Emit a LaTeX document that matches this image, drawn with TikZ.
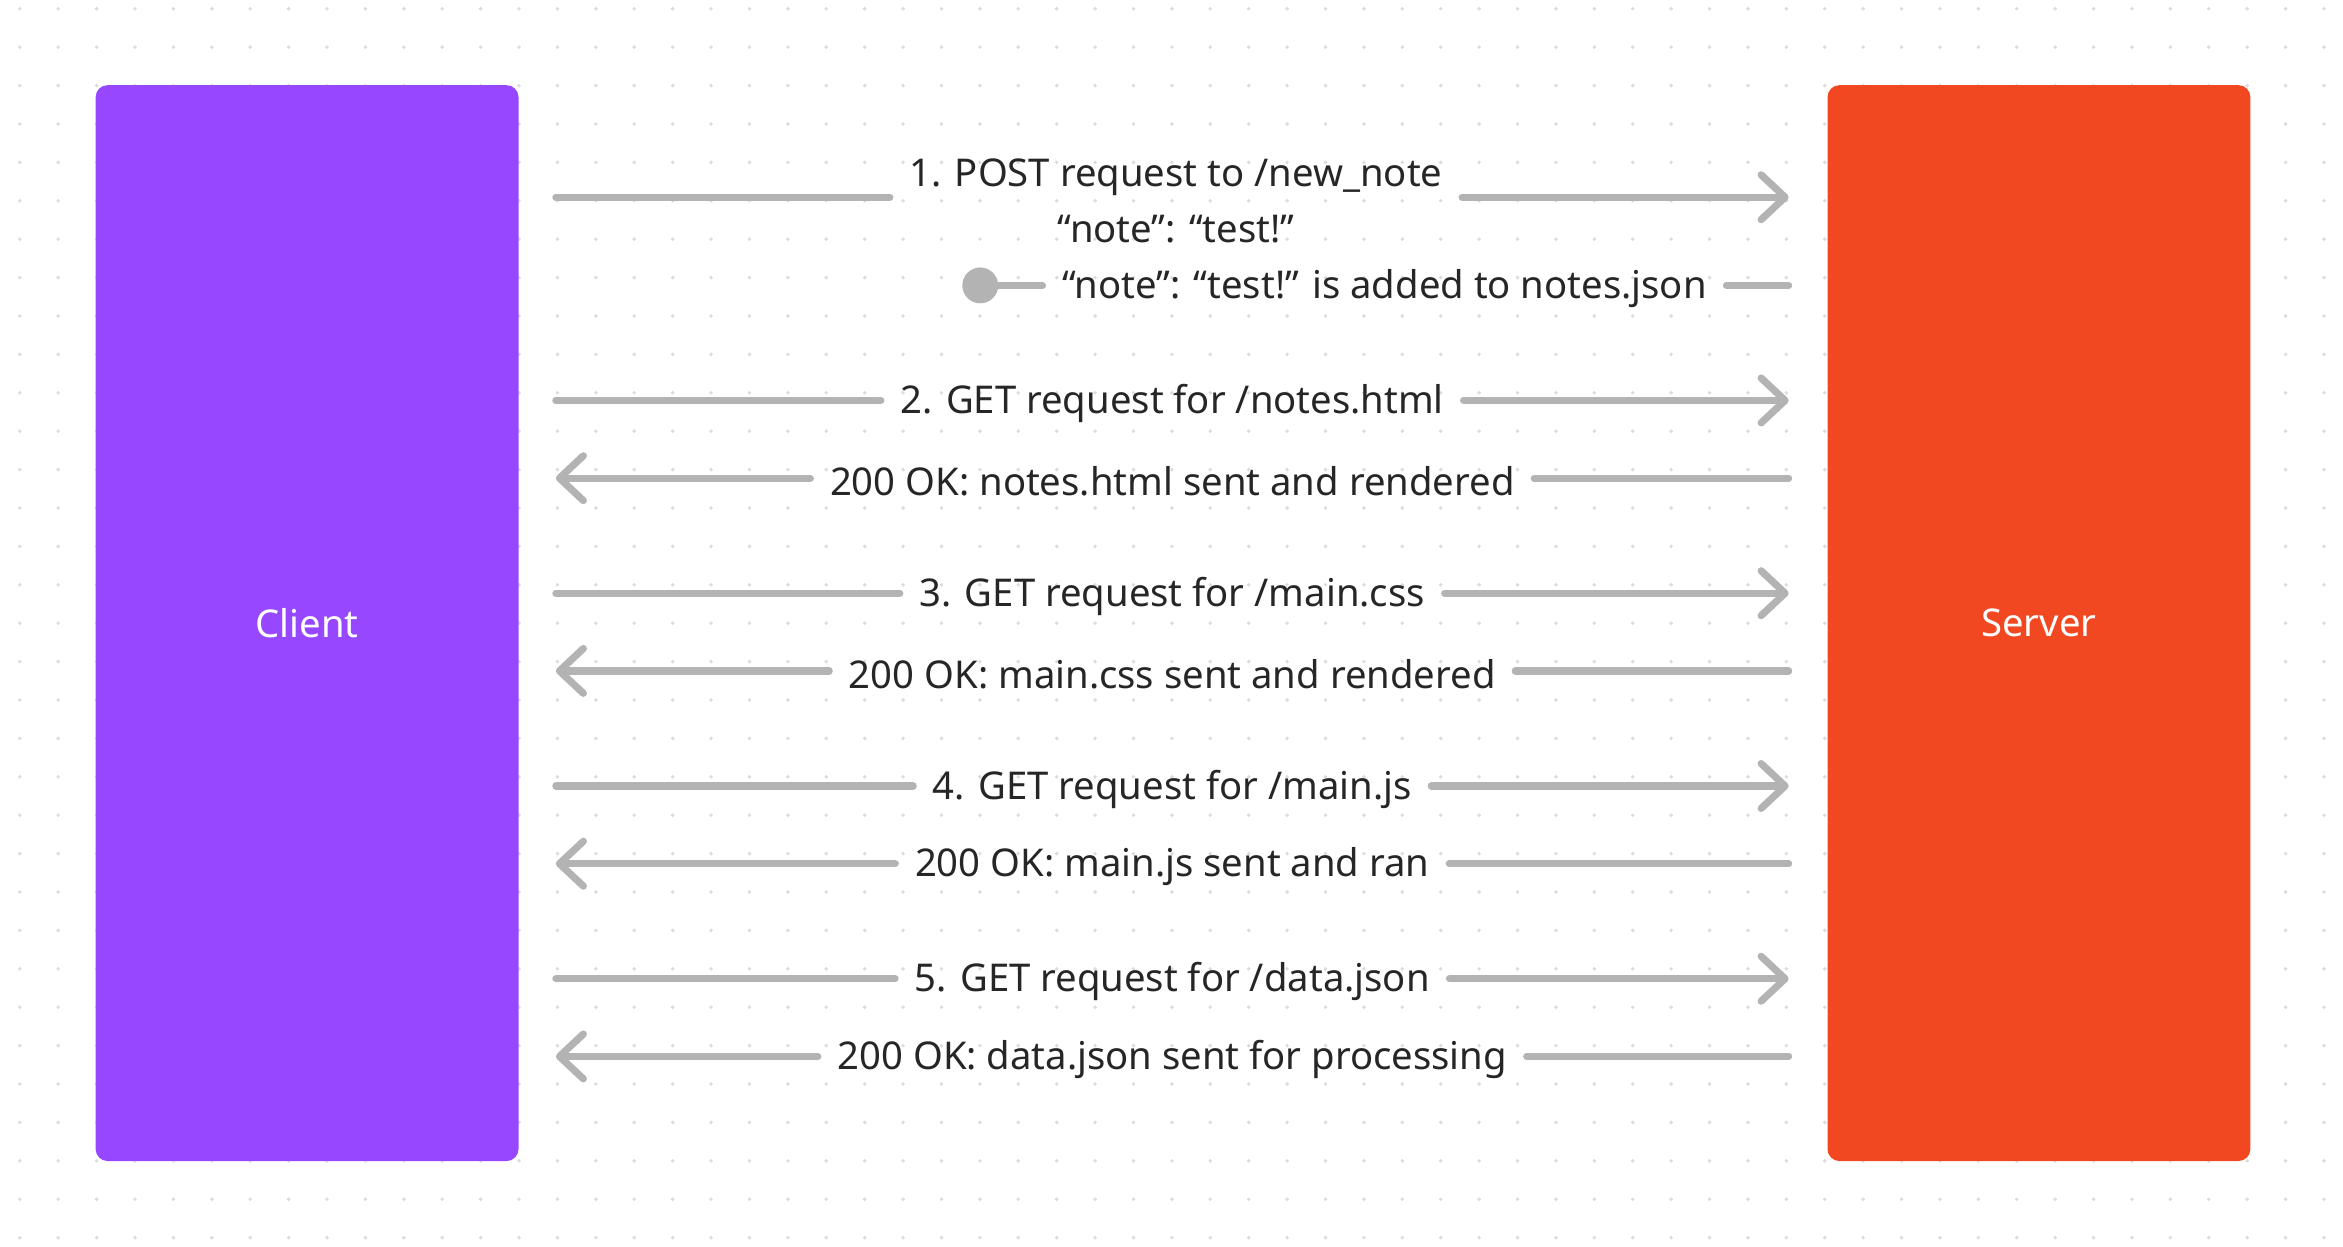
\documentclass[tikz,border=0pt]{standalone}
\usepackage{fontspec}
\setmainfont{Noto Sans}
\usetikzlibrary{arrows.meta}
\definecolor{clientc}{HTML}{9747FF}
\definecolor{serverc}{HTML}{F24822}
\definecolor{linec}{HTML}{B3B3B3}
\definecolor{txtc}{HTML}{262626}
\definecolor{dotc}{HTML}{DCDCDC}
\begin{document}
\begin{tikzpicture}[x=1pt,y=-1pt,
  actor/.style={fill=#1, draw=none, rounded corners=8pt, minimum width=283pt, minimum height=720pt, text=white, font=\fontsize{25.6}{31}\selectfont},
  msg/.style={text=txtc, font=\fontsize{25.6}{31}\selectfont, inner xsep=13pt, inner ysep=0pt, align=center},
  conn/.style={draw=linec, line width=4.8pt, line cap=round},
  tip/.style={-{Straight Barb[length=16pt,width=30pt,round]}}
]
\useasboundingbox (0,0) rectangle (1568,834.5);
\fill[white] (0,0) rectangle (1568,834.5);
\foreach \i in {0,...,60} \foreach \j in {0,...,32} \fill[dotc] (13.25+25.7*\i, 5.86+25.7*\j) circle (1.3pt);

\node[actor=clientc] (client) at (205.5,417) {Client};
\node[actor=serverc] (server) at (1364.5,417) {Server};

% row 1
\coordinate (l1) at (372,132);
\coordinate (r1) at (1197,132);
\node[msg, font=\fontsize{25.6}{38}\selectfont] (m1) at (787,134.5) {1. POST request to /new\_note\\“note”: “test!”};
\draw[conn] (l1) -- (l1 -| m1.west);
\draw[conn,tip] (r1 -| m1.east) -- (r1);

% row 1b
\coordinate (r1b) at (1197,191);
\node[circle, fill=linec, minimum size=24pt, inner sep=0pt] (dot) at (656,191) {};
\node[msg] (m1b) at (926.5,193) {“note”: “test!” is added to notes.json};
\draw[conn] (dot.center) -- (dot.center -| m1b.west);
\draw[conn] (r1b -| m1b.east) -- (r1b);

% requests and responses
\foreach \n/\y/\txt in {2/268/{2. GET request for /notes.html},3/397/{3. GET request for /main.css},4/526/{4. GET request for /main.js},5/655/{5. GET request for /data.json}}{
  \coordinate (ql\n) at (372,\y);
  \coordinate (qr\n) at (1197,\y);
  \node[msg] (q\n) at (784.5,\y+2) {\txt};
  \draw[conn] (ql\n) -- (ql\n -| q\n.west);
  \draw[conn,tip] (qr\n -| q\n.east) -- (qr\n);
}
\foreach \n/\y/\txt in {2/320/{200 OK: notes.html sent and rendered},3/449/{200 OK: main.css sent and rendered},4/578/{200 OK: main.js sent and ran},5/707/{200 OK: data.json sent for processing}}{
  \coordinate (pl\n) at (372,\y);
  \coordinate (pr\n) at (1197,\y);
  \node[msg] (p\n) at (784.5,\y+2) {\txt};
  \draw[conn,tip] (pl\n -| p\n.west) -- (pl\n);
  \draw[conn] (pr\n -| p\n.east) -- (pr\n);
}
\end{tikzpicture}
\end{document}
